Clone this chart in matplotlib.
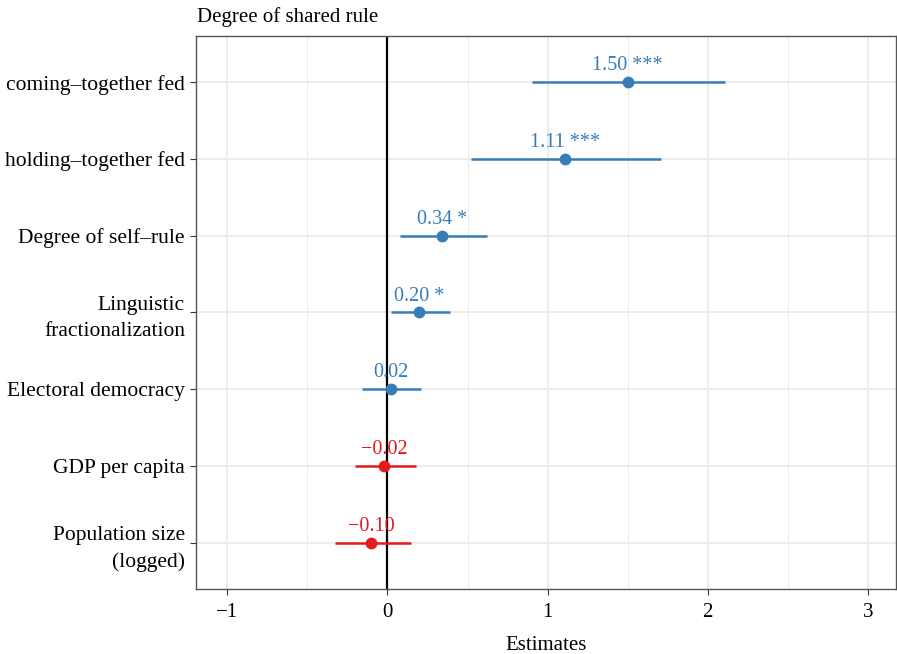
import matplotlib
matplotlib.use("Agg")
import matplotlib.pyplot as plt
from matplotlib.ticker import MultipleLocator

terms = ["coming–together fed", "holding–together fed", "Degree of self–rule",
         "Linguistic\nfractionalization", "Electoral democracy", "GDP per capita",
         "Population size\n(logged)"]
estimates = [1.50, 1.11, 0.34, 0.20, 0.02, -0.02, -0.10]
ci_low = [0.90, 0.52, 0.08, 0.02, -0.16, -0.20, -0.33]
ci_high = [2.11, 1.71, 0.62, 0.39, 0.21, 0.18, 0.15]
stars = ["***", "***", "*", "*", "", "", ""]
xticks = [-1, 0, 1, 2, 3]

plt.rcParams['font.family'] = ['Liberation Serif', 'DejaVu Serif']

fig = plt.figure(figsize=(8.97, 6.54), dpi=100)
ax = fig.add_axes([196/897, 1-589/654, (896-196)/897, (589-36)/654])

blue = "#377eb8"
red = "#e41a1c"
n = len(terms)
ys = [n - i for i in range(n)]

ax.set_xlim(-1.195, 3.175)
ax.set_ylim(0.4, 7.6)
ax.xaxis.set_minor_locator(MultipleLocator(0.5))
ax.set_xticks(xticks)
ax.set_xticklabels([str(t).replace("-", "\u2212") for t in xticks])
ax.grid(True, which="major", color="#ebebeb", lw=1.3)
ax.grid(True, which="minor", axis="x", color="#ebebeb", lw=0.7)
ax.set_axisbelow(True)

ax.axvline(0, color="black", lw=1.6, zorder=2)

for y, e, lo, hi, s in zip(ys, estimates, ci_low, ci_high, stars):
    c = blue if e > 0 else red
    ax.plot([lo, hi], [y, y], color=c, lw=1.8, zorder=3, solid_capstyle="butt")
    ax.plot([e], [y], "o", color=c, ms=7.5, zorder=4)
    lab = f"{e:.2f}".replace("-", "\u2212")
    if s:
        lab = lab + " " + s
    ax.annotate(lab, (e, y), xytext=(0, 5), textcoords="offset points",
                ha="center", va="bottom", color=c, fontsize=14.5, zorder=5)

ax.set_yticks(ys)
ax.set_yticklabels(terms, fontsize=15.5, linespacing=1.5)
for lbl in ax.get_yticklabels():
    lbl.set_horizontalalignment("right")
ax.tick_params(axis="x", labelsize=15, colors="#333333", length=4, width=0.8, labelcolor="black", pad=6)
ax.tick_params(axis="y", colors="#333333", length=4, width=0.8, labelcolor="black", pad=4)
ax.tick_params(which="minor", length=0)

for sp in ax.spines.values():
    sp.set_color("#555555")
    sp.set_linewidth(1.0)

ax.set_xlabel("Estimates", fontsize=15, labelpad=10)
fig.text(197/897, 1-17/654, "Degree of shared rule", fontsize=15, ha="left", va="center")

fig.savefig("out.png", dpi=100)
